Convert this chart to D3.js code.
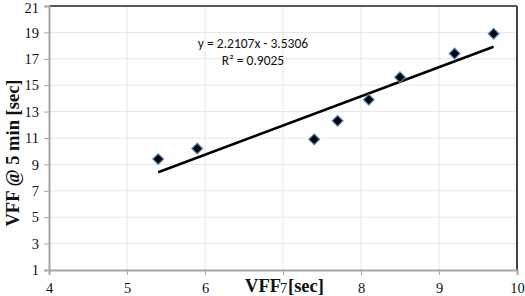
<!DOCTYPE html>
<html>
<head>
<meta charset="utf-8">
<script src="https://cdn.jsdelivr.net/npm/d3@7"></script>
<style>
  body { margin: 0; background: #fff; }
  svg { display: block; }
</style>
</head>
<body>
<div id="chart"></div>
<script>
// measured points
const vff7 = [5.4, 5.9, 7.4, 7.7, 8.1, 8.5, 9.2, 9.7];
const vff5min = [9.4, 10.2, 10.9, 12.3, 13.9, 15.6, 17.4, 18.9];
const xTicks = [4, 5, 6, 7, 8, 9, 10];
const yTicks = [1, 3, 5, 7, 9, 11, 13, 15, 17, 19, 21];
const slope = 2.2107, intercept = -3.5306;
const eqText = "y = 2.2107x - 3.5306";
const r2Text = "R² = 0.9025";

const width = 525, height = 296;
const margin = { top: 6, right: 8, bottom: 26, left: 49 };

const svg = d3.select("#chart").append("svg")
  .attr("width", width).attr("height", height);

const x = d3.scaleLinear().domain([4, 10]).range([margin.left, width - margin.right]);
const y = d3.scaleLinear().domain([1, 21]).range([height - margin.bottom, margin.top]);

// grid
svg.append("g").selectAll("line.v").data(xTicks.slice(1, -1)).join("line")
  .attr("x1", d => x(d)).attr("x2", d => x(d))
  .attr("y1", y(1)).attr("y2", y(21))
  .attr("stroke", "#e6e6e6").attr("stroke-width", 1);
svg.append("g").selectAll("line.h").data(yTicks.slice(1, -1)).join("line")
  .attr("x1", x(4)).attr("x2", x(10))
  .attr("y1", d => y(d)).attr("y2", d => y(d))
  .attr("stroke", "#e6e6e6").attr("stroke-width", 1);

// frame: top + right darker
svg.append("line").attr("x1", x(4)).attr("x2", x(10)).attr("y1", y(21)).attr("y2", y(21))
  .attr("stroke", "#222").attr("stroke-width", 1.5);
svg.append("line").attr("x1", x(10)).attr("x2", x(10)).attr("y1", y(21)).attr("y2", y(1))
  .attr("stroke", "#444").attr("stroke-width", 2);

// axes
const xAxis = svg.append("g")
  .attr("transform", `translate(0,${y(1)})`)
  .call(d3.axisBottom(x).tickValues(xTicks).tickFormat(d3.format("d")).tickSize(5).tickPadding(5));
const yAxis = svg.append("g")
  .attr("transform", `translate(${x(4)},0)`)
  .call(d3.axisLeft(y).tickValues(yTicks).tickFormat(d3.format("d")).tickSize(5).tickPadding(5));

[xAxis, yAxis].forEach(g => {
  g.select(".domain").attr("stroke", "#a6a6a6").attr("stroke-width", 2);
  g.selectAll(".tick line").attr("stroke", "#a6a6a6");
  g.selectAll(".tick text")
    .attr("fill", "#111")
    .style("font-family", "'Liberation Serif', 'Times New Roman', serif")
    .style("font-size", "14.5px");
});
xAxis.selectAll(".tick text").attr("dy", "0.9em");
// keep the top label inside the window
yAxis.selectAll(".tick text").filter(d => d === 21).attr("y", 2);

// trendline
const xMin = d3.min(vff7), xMax = d3.max(vff7);
svg.append("line")
  .attr("x1", x(xMin)).attr("y1", y(slope * xMin + intercept))
  .attr("x2", x(xMax)).attr("y2", y(slope * xMax + intercept))
  .attr("stroke", "#000").attr("stroke-width", 2.5);

// markers
const diamond = d3.symbol().type(d3.symbolDiamond2).size(72);
svg.append("g").selectAll("path").data(vff7).join("path")
  .attr("d", diamond)
  .attr("transform", (d, i) => `translate(${x(d)},${y(vff5min[i])})`)
  .attr("fill", "#000")
  .attr("stroke", "#4f81bd").attr("stroke-width", 1.2);

// equation label
const eq = svg.append("g").style("font-family", "Carlito, 'Open Sans', 'Liberation Sans', sans-serif")
  .style("font-size", "13.5px").attr("fill", "#111");
eq.append("text").attr("x", 253).attr("y", 48).attr("text-anchor", "middle").text(eqText);
eq.append("text").attr("x", 253).attr("y", 65).attr("text-anchor", "middle").text(r2Text);

// axis titles
const titleStyle = sel => sel
  .style("font-family", "'Liberation Serif', 'Times New Roman', serif")
  .style("font-weight", "bold").style("font-size", "18.5px").attr("fill", "#111");
svg.append("text").attr("x", x(7) - 2).attr("y", 292).attr("text-anchor", "end")
  .call(titleStyle).text("VFF");
svg.append("text").attr("x", x(7) + 5).attr("y", 292).attr("text-anchor", "start")
  .call(titleStyle).text("[sec]");
svg.append("text")
  .attr("transform", "translate(19,153) rotate(-90)")
  .attr("text-anchor", "middle")
  .call(titleStyle).text("VFF @ 5 min [sec]");
</script>
</body>
</html>
